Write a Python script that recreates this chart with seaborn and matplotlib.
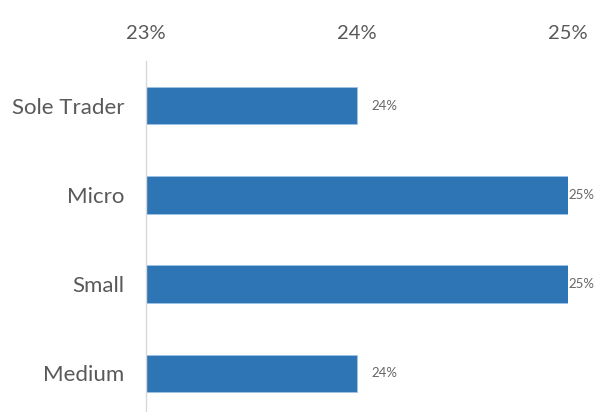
import matplotlib
matplotlib.use("Agg")
import matplotlib.pyplot as plt
import seaborn as sns
import pandas as pd

categories = ["Sole Trader", "Micro", "Small", "Medium"]
values = [24, 25, 25, 24]          # percent
tick_values = [23, 24, 25]
tick_labels = ["23%", "24%", "25%"]

df = pd.DataFrame({"category": categories, "value": values})

sns.set_theme(style="white")
plt.rcParams["font.family"] = ["Lato", "DejaVu Sans"]

W, H = 594, 412
fig = plt.figure(figsize=(W / 100, H / 100), dpi=100)
# axes area in pixels: left 146, right 568, top 61, bottom 418 (runs past the figure edge)
left, right, top, bottom = 146, 568, 61, 418
ax = fig.add_axes([left / W, 1 - bottom / H, (right - left) / W, (bottom - top) / H])

sns.barplot(data=df, x="value", y="category", orient="h", color="#2E75B6",
            saturation=1, width=0.42, ax=ax, edgecolor="#9DC3E6", linewidth=0.6)

ax.set_xlim(23, 25)
ax.set_xticks(tick_values)
ax.set_xticklabels(tick_labels)
ax.xaxis.tick_top()
ax.tick_params(axis="x", length=0, pad=14, labelsize=14.5, labelcolor="#595959")
ax.tick_params(axis="y", length=0, pad=15.5, labelsize=16, labelcolor="#595959")
ax.set_xlabel("")
ax.set_ylabel("")

for s in ["top", "right", "bottom"]:
    ax.spines[s].set_visible(False)
ax.spines["left"].set_color("#D9D9D9")
ax.spines["left"].set_linewidth(1.0)

for i, v in enumerate(values):
    offset = 14 if v < 25 else 0
    ax.annotate(f"{v:.0f}%", xy=(v, i), xytext=(offset, 0), textcoords="offset pixels",
                va="center", ha="left", fontsize=9.5, color="#666666", annotation_clip=False)

fig.savefig("out.png", dpi=100)
